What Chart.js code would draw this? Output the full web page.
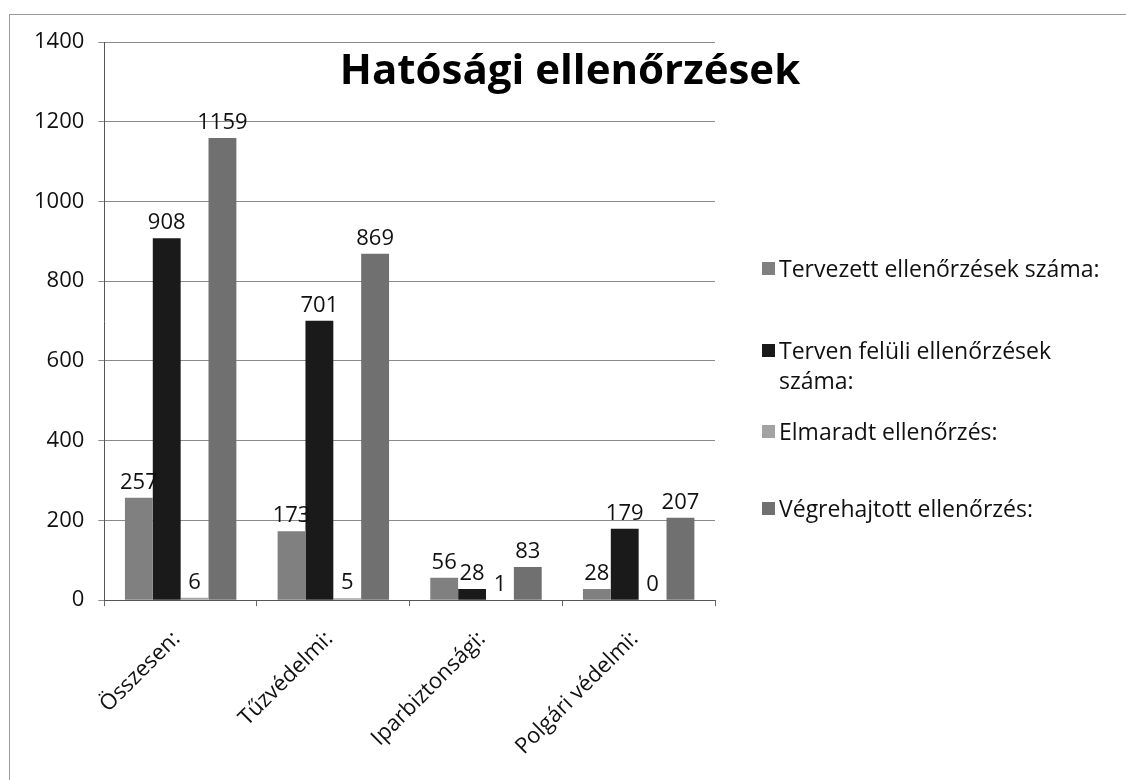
<!DOCTYPE html>
<html>
<head>
<meta charset="utf-8">
<script src="https://cdn.jsdelivr.net/npm/chart.js@4"></script>
<style>
  body { margin: 0; background: #fff; font-family: "Open Sans", sans-serif; }
  #wrap { position: relative; width: 1126px; height: 780px; overflow: hidden; }
  #frame { position: absolute; left: 9px; top: 14px; width: 1200px; height: 900px; border: 1px solid #9a9a9a; }
  #chart { position: absolute; left: 0; top: 0; }
  #legend { position: absolute; left: 762px; top: 0; font-size: 23px; color: #111; }
  #legend .item { position: absolute; left: 0; padding-left: 17px; line-height: 30px; width: 335px; }
  #legend .box { position: absolute; left: 0; top: 9px; width: 13px; height: 13px; }
</style>
</head>
<body>
<div id="wrap">
  <div id="frame"></div>
  <canvas id="chart" width="1126" height="780"></canvas>
  <div id="legend"></div>
</div>
<script>
const categories = ["Összesen:", "Tűzvédelmi:", "Iparbiztonsági:", "Polgári védelmi:"];
const seriesNames = [
  "Tervezett ellenőrzések száma:",
  "Terven felüli ellenőrzések száma:",
  "Elmaradt ellenőrzés:",
  "Végrehajtott ellenőrzés:"
];
const tervezett = [257, 173, 56, 28];
const tervenFeluli = [908, 701, 28, 179];
const elmaradt = [6, 5, 1, 0];
const vegrehajtott = [1159, 869, 83, 207];
const seriesColors = ["#808080", "#1a1a1a", "#a3a3a3", "#707070"];
const yTicks = [0, 200, 400, 600, 800, 1000, 1200, 1400];
const chartTitle = "Hatósági ellenőrzések";

const seriesValues = [tervezett, tervenFeluli, elmaradt, vegrehajtott];

// value labels above every bar
const valueLabels = {
  id: "valueLabels",
  afterDatasetsDraw(chart) {
    const ctx = chart.ctx;
    ctx.save();
    ctx.font = "22px 'Open Sans'";
    ctx.fillStyle = "#111";
    ctx.textAlign = "center";
    ctx.textBaseline = "bottom";
    chart.data.datasets.forEach((ds, i) => {
      chart.getDatasetMeta(i).data.forEach((bar, j) => {
        ctx.fillText(String(ds.data[j]), bar.x, bar.y - 4);
      });
    });
    ctx.restore();
  }
};

// title drawn over the plot, like the original
const overlayTitle = {
  id: "overlayTitle",
  afterDraw(chart) {
    const ctx = chart.ctx;
    ctx.save();
    ctx.font = "bold 42px 'Open Sans'";
    ctx.fillStyle = "#000";
    ctx.textAlign = "center";
    ctx.textBaseline = "middle";
    ctx.fillText(chartTitle, 570, 72);
    ctx.restore();
  }
};

new Chart(document.getElementById("chart"), {
  type: "bar",
  data: {
    labels: categories,
    datasets: seriesNames.map((name, i) => ({
      label: name,
      data: seriesValues[i],
      backgroundColor: seriesColors[i],
      borderWidth: 0,
      categoryPercentage: 0.73,
      barPercentage: 1.0
    }))
  },
  options: {
    responsive: false,
    animation: false,
    layout: { padding: { left: 20, right: 411, top: 42, bottom: 0 } },
    plugins: {
      legend: { display: false },
      title: { display: false },
      tooltip: { enabled: false }
    },
    scales: {
      x: {
        // let the rotated first label hang under the y labels
        afterFit(scale) { scale.paddingLeft = 0; },
        grid: { drawOnChartArea: false, color: "#666", tickLength: 6 },
        border: { color: "#555", width: 1 },
        ticks: {
          color: "#111",
          font: { family: "Open Sans", size: 22 },
          minRotation: 45,
          maxRotation: 45,
          labelOffset: -4,
          padding: 20
        }
      },
      y: {
        min: 0,
        max: 1400,
        afterBuildTicks(scale) {
          scale.ticks = yTicks.map((v) => ({ value: v }));
        },
        grid: { color: "#8a8a8a", tickLength: 6 },
        border: { color: "#555", width: 1 },
        ticks: {
          color: "#111",
          font: { family: "Open Sans", size: 22 },
          padding: 14,
          callback: (v) => String(v)
        }
      }
    }
  },
  plugins: [valueLabels, overlayTitle]
});

const legendBox = document.getElementById("legend");
const legendTops = [253, 335, 416, 493];
seriesNames.forEach((name, i) => {
  const item = document.createElement("div");
  item.className = "item";
  item.style.top = legendTops[i] + "px";
  const box = document.createElement("span");
  box.className = "box";
  box.style.background = seriesColors[i];
  item.appendChild(box);
  item.appendChild(document.createTextNode(name));
  legendBox.appendChild(item);
});
</script>
</body>
</html>
